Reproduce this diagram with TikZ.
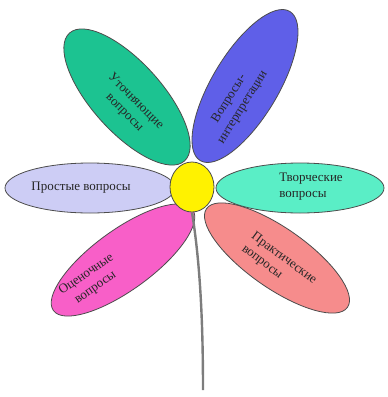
\documentclass[tikz,border=0pt]{standalone}
\usepackage{fontspec}
\setmainfont{Liberation Serif}
\usepackage{tikz}
\usetikzlibrary{
  shapes.geometric,
  positioning
}
\definecolor{tealpetal}{RGB}{28,195,145}
\definecolor{bluepetal}{RGB}{95,95,232}
\definecolor{lilacpetal}{RGB}{205,205,245}
\definecolor{aquapetal}{RGB}{90,238,198}
\definecolor{pinkpetal}{RGB}{248,95,200}
\definecolor{salmonpetal}{RGB}{246,140,140}
\definecolor{stemgray}{RGB}{125,125,125}
\tikzset{
  petal/.style={draw=black!70,line width=0.8pt},
  petaltext/.style={font=\fontsize{13}{16}\selectfont,align=center,inner sep=0pt,text=black!85}
}

\begin{document}
\begin{tikzpicture}[x=1pt,y=-1pt]
  \useasboundingbox (0,0) rectangle (388,397);
  % petals
  \draw[petal,fill=tealpetal,rotate around={-48:(127,97)}] (127,97) ellipse [x radius=86pt,y radius=35pt];
  \draw[petal,fill=bluepetal,rotate around={59:(245,86)}] (245,86) ellipse [x radius=87pt,y radius=33pt];
  \draw[petal,fill=pinkpetal,rotate around={36:(123,260)}] (123,260) ellipse [x radius=86pt,y radius=30pt];
  \draw[petal,fill=salmonpetal,rotate around={-35:(277,258)}] (277,258) ellipse [x radius=86pt,y radius=30pt];
  \draw[petal,fill=lilacpetal] (90,188) ellipse [x radius=85pt,y radius=25pt];
  \draw[petal,fill=aquapetal] (300,188) ellipse [x radius=84pt,y radius=25pt];
  % labels
  \node[petaltext,rotate=-45] (clarify) at (130,107) {Уточняющие\\вопросы};
  \node[petaltext,rotate=58] (interpret) at (236,103) {Вопросы-\\интерпретации};
  \node[petaltext] (simple) at (81,188) {Простые вопросы};
  \node[petaltext,align=left] (creative) at (311,187) {Творческие\\вопросы};
  \node[petaltext,rotate=35] (evaluate) at (91,281) {Оценочные\\вопросы};
  \node[petaltext,rotate=-37,align=left] (practical) at (279,265) {Практические\\вопросы};
  % stem and core
  \coordinate (root) at (203,390);
  \node[ellipse,draw=black!70,line width=0.8pt,fill=yellow,minimum width=44pt,minimum height=50pt,inner sep=0pt] (core) at (192,187) {};
  \draw[stemgray,line width=2.4pt] (core.south) .. controls (200,262) and (203,320) .. (root);
\end{tikzpicture}
\end{document}
